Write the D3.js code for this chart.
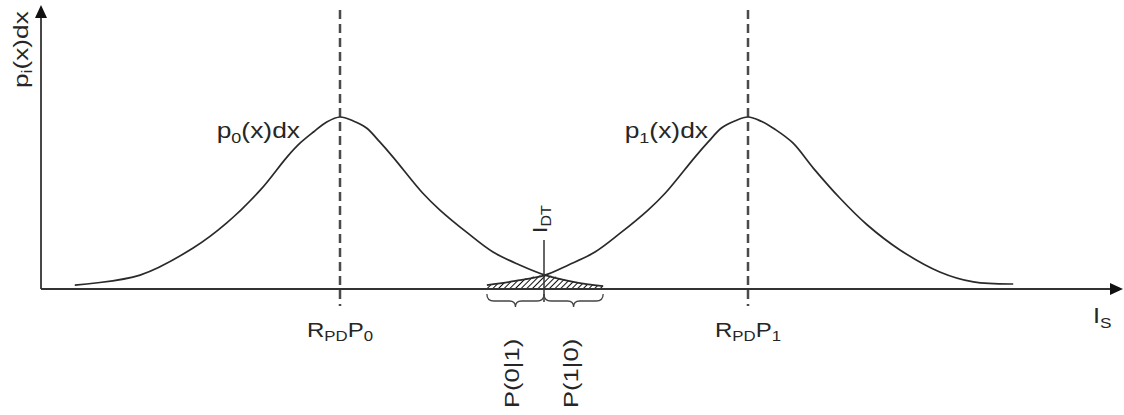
<!DOCTYPE html>
<html>
<head>
<meta charset="utf-8">
<script src="https://cdn.jsdelivr.net/npm/d3@7"></script>
<style>
body { margin: 0; background: #fff; }
text { font-family: "Liberation Sans", Arial, sans-serif; fill: #262626; }
</style>
</head>
<body>
<script>
// readings: x in units of R_PD*P, y as a fraction of the peak height
const p0X = [0.40, 1.04, 1.56, 1.89, 2.22, 2.48, 2.61, 2.74, 2.87, 3.00, 3.13, 3.26, 3.39, 3.52, 3.81, 3.98, 4.25, 4.50, 4.76, 5.01, 5.30, 5.58];
const p0Y = [0.023, 0.081, 0.238, 0.384, 0.576, 0.767, 0.849, 0.913, 0.971, 1.0, 0.977, 0.936, 0.855, 0.767, 0.558, 0.459, 0.326, 0.215, 0.140, 0.081, 0.040, 0.017];
const p1X = [4.44, 4.72, 5.01, 5.24, 5.50, 5.75, 6.02, 6.19, 6.48, 6.61, 6.74, 6.87, 7.00, 7.13, 7.26, 7.44, 7.64, 7.90, 8.17, 8.49, 8.88, 9.21, 9.60];
const p1Y = [0.023, 0.047, 0.081, 0.140, 0.215, 0.326, 0.459, 0.558, 0.767, 0.855, 0.936, 0.977, 1.0, 0.975, 0.930, 0.849, 0.703, 0.529, 0.372, 0.227, 0.099, 0.041, 0.029];
const means = [3, 7];
const threshold = 5;

const curveLabels = [[["p"], ["0", true], ["(x)dx"]], [["p"], ["1", true], ["(x)dx"]]];
const meanLabels = [[["R"], ["PD", true], ["P"], ["0", true]], [["R"], ["PD", true], ["P"], ["1", true]]];
const errLabels = ["P(0|1)", "P(1|0)"];

const width = 1124, height = 415;
const axisLeft = 41, axisRight = 1123, axisTop = 5;

const svg = d3.select("body").append("svg")
    .attr("width", width)
    .attr("height", height);

const x = d3.scaleLinear().domain([3, 7]).range([340, 748]);
const y = d3.scaleLinear().domain([0, 1]).range([289, 117]);

const p0 = p0X.map((v, i) => ({x: v, y: p0Y[i]}));
const p1 = p1X.map((v, i) => ({x: v, y: p1Y[i]}));

// text with subscripts, stretched a bit along the reading direction
function label(parts, px, py, o) {
    const size = o.size || 22, sub = o.sub || 15, shift = o.shift || 5;
    const t = svg.append("text")
        .attr("transform", `translate(${px},${py}) rotate(${o.rotate || 0}) scale(${o.sx || 1.2},1)`)
        .attr("text-anchor", o.anchor || "start")
        .style("font-size", size + "px");
    let down = false;
    parts.forEach(([s, isSub]) => {
        const ts = t.append("tspan").text(s);
        if (isSub) ts.style("font-size", sub + "px");
        if (isSub && !down) { ts.attr("dy", shift); down = true; }
        else if (!isSub && down) { ts.attr("dy", -shift); down = false; }
    });
    return t;
}

// hatch pattern
svg.append("defs").append("pattern")
    .attr("id", "hatch")
    .attr("patternUnits", "userSpaceOnUse")
    .attr("width", 4).attr("height", 4)
    .attr("patternTransform", "rotate(45)")
    .append("line")
    .attr("x1", 0).attr("y1", 0).attr("x2", 0).attr("y2", 4)
    .attr("stroke", "#111").attr("stroke-width", 2);

const smooth = d3.curveCatmullRom.alpha(0.5);

// error tails: p1 left of threshold, p0 right of it
const tail = p1.filter(d => d.x <= threshold + 0.02).concat(p0.filter(d => d.x > threshold + 0.02));
svg.append("path")
    .datum(tail)
    .attr("fill", "url(#hatch)")
    .attr("d", d3.area().x(d => x(d.x)).y0(y(0)).y1(d => y(d.y)).curve(smooth));

// dashed mean lines
svg.selectAll(".mean")
    .data(means)
    .enter()
    .append("line")
    .attr("class", "mean")
    .attr("x1", d => x(d)).attr("x2", d => x(d))
    .attr("y1", 10).attr("y2", 306)
    .attr("stroke", "#4a4a4a")
    .attr("stroke-width", 2.5)
    .attr("stroke-dasharray", "9,5");

// axes
svg.append("line")
    .attr("x1", axisLeft).attr("x2", axisLeft)
    .attr("y1", y(0)).attr("y2", axisTop + 8)
    .attr("stroke", "#333").attr("stroke-width", 1.8);
svg.append("path")
    .attr("d", `M${axisLeft},${axisTop} L${axisLeft - 6},${axisTop + 13} L${axisLeft + 6},${axisTop + 13} Z`)
    .attr("fill", "#111");
svg.append("line")
    .attr("x1", axisLeft).attr("x2", axisRight - 8)
    .attr("y1", y(0)).attr("y2", y(0))
    .attr("stroke", "#333").attr("stroke-width", 1.8);
svg.append("path")
    .attr("d", `M${axisRight},${y(0)} L${axisRight - 13},${y(0) - 6} L${axisRight - 13},${y(0) + 6} Z`)
    .attr("fill", "#111");

// curves
const line = d3.line().x(d => x(d.x)).y(d => y(d.y)).curve(smooth);
svg.selectAll(".pdf")
    .data([p0, p1])
    .enter()
    .append("path")
    .attr("class", "pdf")
    .attr("fill", "none")
    .attr("stroke", "#2a2a2a")
    .attr("stroke-width", 1.7)
    .attr("d", line);

// threshold line
svg.append("line")
    .attr("x1", x(threshold)).attr("x2", x(threshold))
    .attr("y1", 240).attr("y2", 302)
    .attr("stroke", "#333").attr("stroke-width", 1.5);

// braces under the tails
function brace(a, b) {
    const x0 = x(a), x1 = x(b), m = (x0 + x1) / 2, top = 294, mid = 301, tip = 307;
    return `M${x0},${top} Q${x0},${mid} ${x0 + 7},${mid} L${m - 6},${mid} Q${m},${mid} ${m},${tip}` +
        ` Q${m},${mid} ${m + 6},${mid} L${x1 - 7},${mid} Q${x1},${mid} ${x1},${top}`;
}
const braceSpans = [[p1X[0], threshold], [threshold, p0X[p0X.length - 1]]];
svg.selectAll(".brace")
    .data(braceSpans)
    .enter()
    .append("path")
    .attr("class", "brace")
    .attr("fill", "none")
    .attr("stroke", "#444")
    .attr("stroke-width", 1.3)
    .attr("d", d => brace(d[0], d[1]));

// labels
curveLabels.forEach((parts, i) => label(parts, x(means[i]) - 40, 138, {anchor: "end"}));
meanLabels.forEach((parts, i) => label(parts, x(means[i]), 337, {anchor: "middle", size: 20, sub: 14, shift: 4}));
errLabels.forEach((s, i) => {
    const m = (x(braceSpans[i][0]) + x(braceSpans[i][1])) / 2;
    label([[s]], m + 4, 408, {rotate: -90, size: 21, sx: 1.22});
});
label([["p"], ["i", true], ["(x)dx"]], 28, 88, {rotate: -90, size: 21, sub: 14, shift: 4, sx: 1.25});
label([["I"], ["DT", true]], x(threshold) + 3, 233, {rotate: -90, size: 20, sub: 14, shift: 4, sx: 1.15});
label([["I"], ["S", true]], 1093, 323, {size: 22, sub: 15, shift: 5, sx: 1.15});
</script>
</body>
</html>
